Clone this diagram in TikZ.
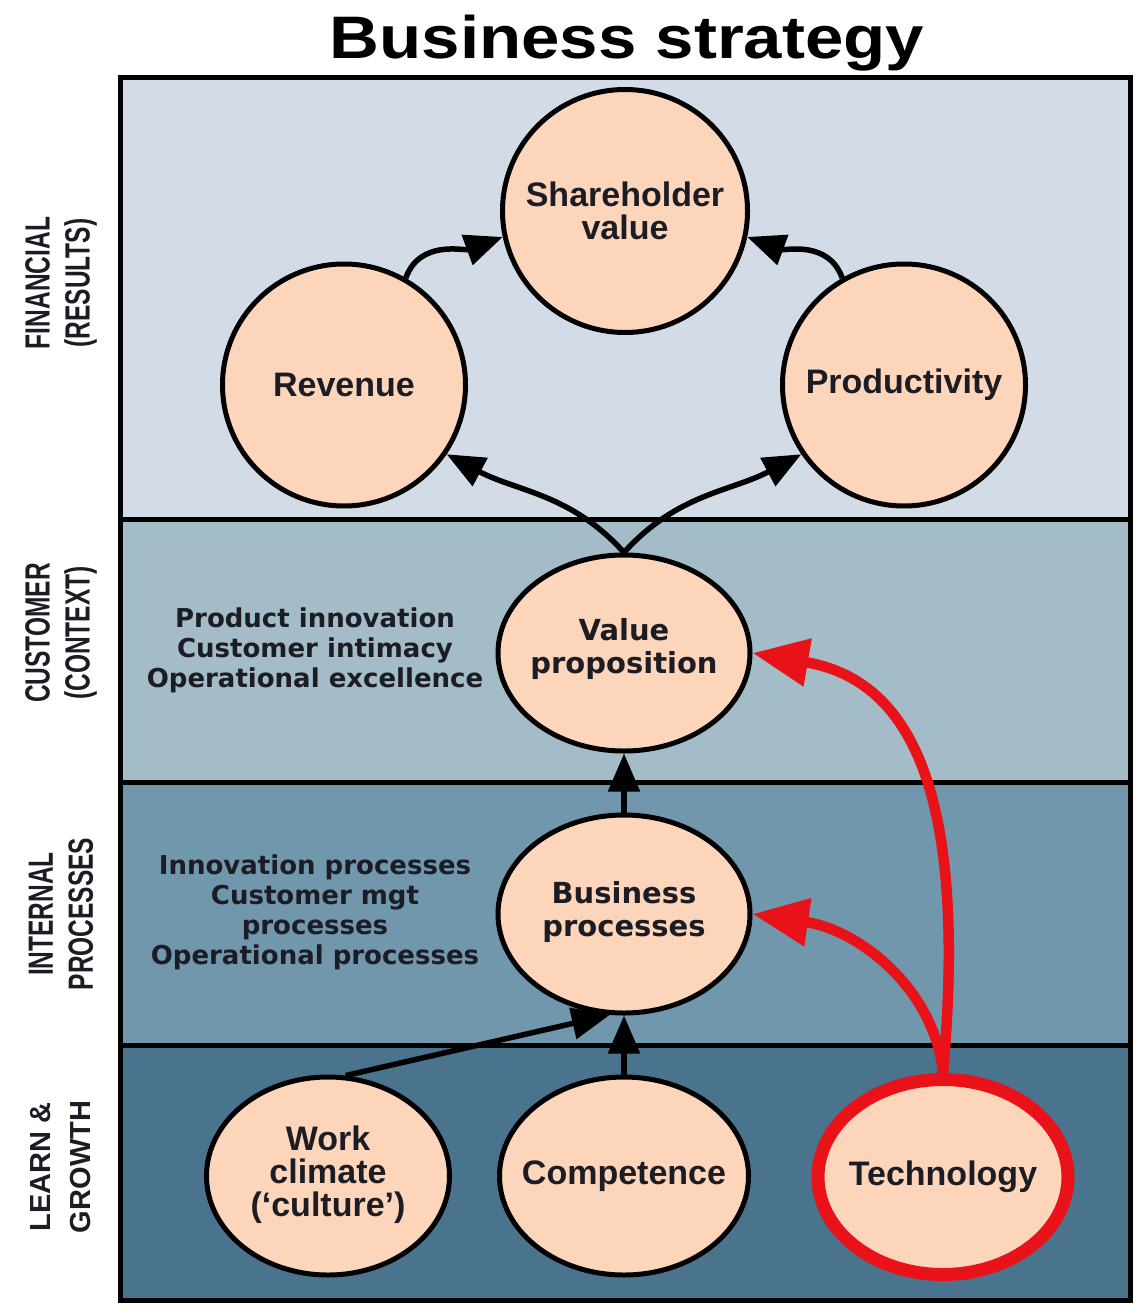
\documentclass[tikz,border=0pt]{standalone}
\usepackage{graphicx}
\usepackage{fontspec}
\setmainfont{Liberation Sans}
\newfontfamily\dejavu{DejaVu Sans}
\usetikzlibrary{shapes.geometric,arrows.meta}
\definecolor{finfill}{RGB}{211,220,230}
\definecolor{cusfill}{RGB}{164,188,199}
\definecolor{intfill}{RGB}{113,151,173}
\definecolor{lrnfill}{RGB}{74,116,142}
\definecolor{peach}{RGB}{252,213,186}
\definecolor{tred}{RGB}{232,18,24}
\definecolor{textdark}{RGB}{28,28,36}
\newcommand{\narrowtxt}[1]{\scalebox{0.7}[1]{#1}}
\begin{document}
\begin{tikzpicture}[x=1pt,y=1pt,
  bubble/.style={ellipse, draw=black, line width=5pt, fill=peach, inner sep=0pt},
  btext/.style={align=center, text=textdark, inner sep=0pt, font=\fontsize{34}{33}\selectfont\bfseries},
  wtext/.style={align=center, text=textdark, inner sep=0pt, font=\dejavu\fontsize{29}{33}\selectfont\bfseries},
  listtext/.style={align=center, text=textdark, inner sep=0pt, font=\dejavu\fontsize{26}{30}\selectfont\bfseries},
  sidelab/.style={rotate=90, align=center, text=textdark, inner sep=0pt, font=\fontsize{35}{40}\selectfont\bfseries},
  blk/.style={draw=black, line width=5.5pt, -{Triangle[length=38pt,width=31pt]}},
  redarr/.style={draw=tred, line width=10.5pt, -{Triangle[length=56pt,width=46pt]}},
  sep/.style={line width=5pt}
]
\useasboundingbox (0,0) rectangle (1138,-1308);
% bands
\fill[finfill] (120,-78) rectangle (1130,-519);
\fill[cusfill] (120,-519) rectangle (1130,-782);
\fill[intfill] (120,-782) rectangle (1130,-1045);
\fill[lrnfill] (120,-1045) rectangle (1130,-1300);
\draw[sep] (120,-519) -- (1130,-519);
\draw[sep] (120,-782) -- (1130,-782);
\draw[sep] (120,-1045) -- (1130,-1045);
\draw[sep] (120,-78) rectangle (1130,-1300);
% title
\node[inner sep=0pt, font=\fontsize{60}{60}\selectfont\bfseries] (title) at (627,-43) {\scalebox{1.15}[1]{Business strategy}};
% side labels
\node[sidelab] (lfin) at (61,-283) {\narrowtxt{FINANCIAL}\\\narrowtxt{(RESULTS)}};
\node[sidelab] (lcus) at (61,-633) {\narrowtxt{CUSTOMER}\\\narrowtxt{(CONTEXT)}};
\node[sidelab] (lint) at (61,-914) {\narrowtxt{INTERNAL}\\\narrowtxt{PROCESSES}};
\node[sidelab, font=\fontsize{29}{40}\selectfont\bfseries] (llrn) at (61,-1167) {LEARN \&\\GROWTH};
% lists
\node[listtext] (lst1) at (315,-650) {Product innovation\\Customer intimacy\\Operational excellence};
\node[listtext] (lst2) at (315,-912) {Innovation processes\\Customer mgt\\processes\\Operational processes};
% bubbles
\node[bubble, minimum width=245pt, minimum height=243pt] (sv) at (625,-211) {};
\node[bubble, minimum width=243pt, minimum height=242pt] (rev) at (344,-385) {};
\node[bubble, minimum width=243pt, minimum height=242pt] (prod) at (904,-385) {};
\node[bubble, minimum width=252pt, minimum height=196pt] (vp) at (624,-653) {};
\node[bubble, minimum width=252pt, minimum height=198pt] (bp) at (624,-914) {};
\node[bubble, minimum width=243pt, minimum height=198pt] (wc) at (328,-1176) {};
\node[bubble, minimum width=249pt, minimum height=198pt] (comp) at (624,-1176) {};
\node[bubble, draw=tred, line width=13pt, minimum width=250pt, minimum height=195pt] (tech) at (943,-1177) {};
% bubble texts
\node[btext] (svt) at (625,-211) {Shareholder\\value};
\node[btext] (revt) at (344,-385) {Revenue};
\node[btext] (prodt) at (904,-385) {Productivity};
\node[wtext] (vpt) at (624,-649) {Value\\proposition};
\node[wtext] (bpt) at (624,-912) {Business\\processes};
\node[btext] (wct) at (328,-1175) {Work\\climate\\(`culture')};
\node[btext] (compt) at (624,-1176) {Competence};
\node[btext] (techt) at (943,-1177) {Technology};
% arrows
\draw[blk] (rev.60) to[out=70,in=-160] (sv.192);
\draw[blk] (prod.120) to[out=110,in=-20] (sv.348);
\draw[blk] (vp.north) to[out=132,in=-28] (rev.-34);
\draw[blk] (vp.north) to[out=48,in=-152] (prod.214);
\draw[blk] (bp.north) -- (vp.south);
\draw[blk] (comp.north) -- (bp.south);
\draw[blk] (wc.80) -- (bp.262);
\draw[redarr] (tech.north) .. controls (968,-790) and (910,-680) .. (vp.east);
\draw[redarr] (tech.north) .. controls (935,-990) and (860,-930) .. (bp.east);
\end{tikzpicture}
\end{document}
